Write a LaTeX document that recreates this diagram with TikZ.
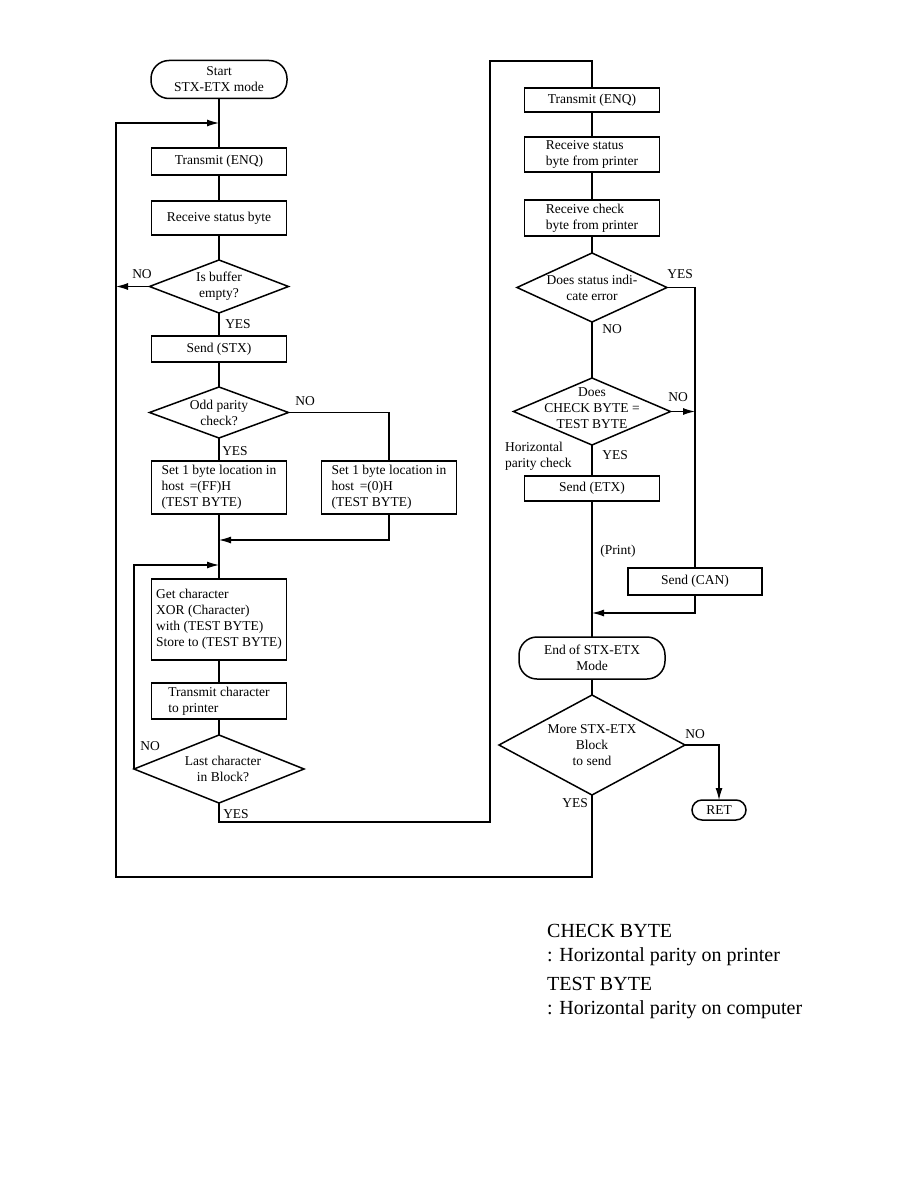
\documentclass[tikz,border=0pt]{standalone}
\usepackage{fontspec}
\setmainfont{Liberation Serif}
\usetikzlibrary{arrows.meta,positioning,shapes.geometric}

\begin{document}
\begin{tikzpicture}[x=1pt,y=-1pt,font=\fontsize{13.5}{16}\selectfont,
  box/.style={draw,line width=1.5pt,minimum width=135pt,inner sep=2pt,outer sep=0pt,align=center},
  boxl/.style={box,align=left},
  term/.style={draw,line width=1.5pt,rounded corners=18pt,minimum width=136pt,minimum height=38pt,inner sep=2pt,outer sep=0pt,align=center},
  dec/.style={draw,diamond,line width=1.5pt,inner sep=0pt,outer sep=0pt},
  lbl/.style={inner sep=1pt},
  ln/.style={line width=1.1pt},
  ar/.style={ln,-{Latex[length=12pt,width=7pt]}}]
\useasboundingbox (0,0) rectangle (918,1188);

% left track
\node[term] (start) at (219,79.5) {Start\\STX-ETX mode};
\node[box,minimum height=27pt,below=49.5pt of start] (tx1) {Transmit (ENQ)};
\node[box,minimum height=34pt,below=26pt of tx1] (rx1) {Receive status byte};
\node[dec,minimum width=139pt,minimum height=53pt,below=25pt of rx1,
  label={[align=center]center:Is buffer\\empty?}] (q1) {};
\node[box,minimum height=26pt,below=23pt of q1] (stx) {Send (STX)};
\node[dec,minimum width=139pt,minimum height=51pt,below=25pt of stx,
  label={[align=center]center:Odd parity\\check?}] (q2) {};
\node[boxl,minimum height=53pt,below=23pt of q2] (ff) {Set 1 byte location in\\host \,=(FF)H\\(TEST BYTE)};
\node[boxl,minimum height=53pt,right=35pt of ff] (zero) {Set 1 byte location in\\host \,=(0)H\\(TEST BYTE)};
\node[boxl,minimum height=81pt,below=65pt of ff] (getc) {Get character\\XOR (Character)\\with (TEST BYTE)\\Store to (TEST BYTE)};
\node[boxl,minimum height=36pt,below=23pt of getc] (txc) {Transmit character\\to printer};
\node[dec,minimum width=170pt,minimum height=68pt,below=16pt of txc,
  label={[align=center,xshift=4pt]center:Last character\\in Block?}] (q3) {};

% right track
\node[box,minimum height=24pt] (tx2) at (592,100) {Transmit (ENQ)};
\node[boxl,minimum height=35pt,below=25pt of tx2] (rs2) {Receive status\\byte from printer};
\node[boxl,minimum height=36pt,below=28pt of rs2] (rc2) {Receive check\\byte from printer};
\node[dec,minimum width=150pt,minimum height=69pt,below=17pt of rc2,
  label={[align=center]center:Does status indi-\\cate error}] (q4) {};
\node[dec,minimum width=157pt,minimum height=67pt,below=56pt of q4,
  label={[align=center,yshift=3pt]center:Does\\CHECK BYTE =\\TEST BYTE}] (q5) {};
\node[box,minimum height=25pt,below=31pt of q5] (etx) {Send (ETX)};
\node[box,minimum width=134pt,minimum height=27pt] (can) at (695,581.5) {Send (CAN)};
\node[term,minimum width=146pt,minimum height=42pt,below=136pt of etx] (endm) {End of STX-ETX\\Mode};
\node[dec,minimum width=186pt,minimum height=100pt,below=16pt of endm,
  label={[align=center]center:More STX-ETX\\Block\\to send}] (q6) {};
\node[term,rounded corners=10pt,minimum width=54pt,minimum height=20pt,inner sep=1pt] (ret) at (719,810) {RET};

% joints and corners
\coordinate (j1) at (219,123);
\coordinate (j2) at (219,540);
\coordinate (j3) at (219,565);
\coordinate (j4) at (592,613);
\coordinate (lp) at (116,877);
\coordinate (dn) at (490,822);
\coordinate (up) at (490,61);

\draw[ln] (start)--(tx1); \draw[ln] (tx1)--(rx1); \draw[ln] (rx1)--(q1);
\draw[ln] (q1)--(stx); \draw[ln] (stx)--(q2); \draw[ln] (q2)--(ff);
\draw[ln] (ff)--(getc); \draw[ln] (getc)--(txc); \draw[ln] (txc)--(q3);
\draw[ln] (q2.east) -| (zero.north);
\draw[ar] (zero.south) |- (j2);
\draw[ar] (q1.west) -- (q1.west -| lp);
\draw[ar] (q3.west) |- (j3);
\draw[ln] (q3.south) |- (dn) -- (up) -| (tx2.north);

\draw[ln] (tx2)--(rs2); \draw[ln] (rs2)--(rc2); \draw[ln] (rc2)--(q4);
\draw[ln] (q4)--(q5); \draw[ln] (q5)--(etx); \draw[ln] (etx)--(endm); \draw[ln] (endm)--(q6);
\draw[ln] (q4.east) -| (can.north);
\draw[ar] (q5.east) -- (q5.east -| can.north);
\draw[ar] (can.south) |- (j4);
\draw[ar] (q6.east) -| (ret.north);
\draw[ar] (q6.south) |- (lp) |- (j1);

% branch labels
\node[lbl] (n1) at (142,274) {NO};
\node[lbl] (y1) at (238,324) {YES};
\node[lbl] (n2) at (305,401) {NO};
\node[lbl] (y2) at (235,451) {YES};
\node[lbl] (n3) at (150,746) {NO};
\node[lbl] (y3) at (236,814) {YES};
\node[lbl] (y4) at (680,274) {YES};
\node[lbl] (n4) at (612,329) {NO};
\node[lbl] (n5) at (678,397) {NO};
\node[lbl] (y5) at (615,455) {YES};
\node[lbl,align=left,anchor=north west] (hp) at (504,441) {Horizontal\\parity check};
\node[lbl] (pr) at (618,551) {(Print)};
\node[lbl] (n6) at (695,734) {NO};
\node[lbl] (y6) at (575,803) {YES};

% legend
\node[anchor=north west,inner sep=0pt,align=left,font=\fontsize{20}{24}\selectfont] (lg) at (547,924)
  {CHECK BYTE\\: Horizontal parity on printer\\[5pt]TEST BYTE\\: Horizontal parity on computer};
\end{tikzpicture}
\end{document}
